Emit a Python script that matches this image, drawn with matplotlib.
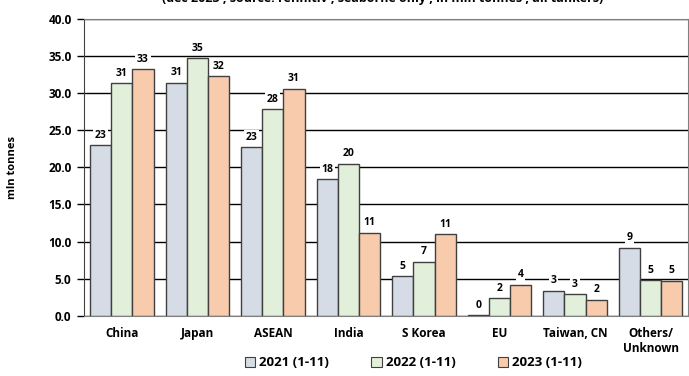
import numpy as np
import matplotlib.pyplot as plt
from matplotlib.patches import Patch

plt.rcParams['font.family'] = ['Open Sans', 'DejaVu Sans']
plt.rcParams['font.weight'] = 'bold'

categories = ['China', 'Japan', 'ASEAN', 'India', 'S Korea', 'EU', 'Taiwan, CN', 'Others/\nUnknown']
series_names = ['2021 (1-11)', '2022 (1-11)', '2023 (1-11)']
v2021 = [23.0, 31.4, 22.7, 18.4, 5.3, 0.1, 3.4, 9.2]
v2022 = [31.3, 34.7, 27.8, 20.5, 7.3, 2.4, 2.9, 4.8]
v2023 = [33.2, 32.3, 30.6, 11.2, 11.0, 4.2, 2.2, 4.7]
colors = ['#D6DCE5', '#E2EFDA', '#F8CBAD']

fig = plt.figure(figsize=(6.89, 3.76), dpi=100)
ax = fig.add_axes([0.122, 0.16, 0.877, 0.79])

x = np.arange(len(categories))
w = 0.28
for i, (vals, c) in enumerate(zip([v2021, v2022, v2023], colors)):
    pos = x + (i - 1) * w
    ax.bar(pos, vals, w, color=c, edgecolor='#404040', linewidth=1.0, zorder=3)
    for p, v in zip(pos, vals):
        ax.text(p, v + 0.6, f'{v:.0f}', ha='center', va='bottom', fontsize=7.5,
                fontweight='bold', zorder=4,
                bbox=dict(facecolor='white', edgecolor='none', pad=1.2))

ax.set_ylim(0, 40)
ax.set_xlim(-0.5, len(categories) - 0.5)
ax.set_yticks(np.arange(0, 41, 5))
ax.set_yticklabels([f'{t:.1f}' for t in np.arange(0, 41, 5)], fontsize=8.5, fontweight='bold')
ax.set_xticks(x)
ax.set_xticklabels(categories, fontsize=8.5, fontweight='bold')
ax.tick_params(axis='x', length=0, pad=8)
ax.tick_params(axis='y', length=5, width=1, direction='out', pad=4)
ax.yaxis.grid(True, color='black', linewidth=1.0, zorder=0)
ax.set_axisbelow(True)
for s in ['top', 'right']:
    ax.spines[s].set_color('#808080')
ax.spines['left'].set_color('#404040')
ax.spines['bottom'].set_color('#808080')
ax.set_ylabel('mln tonnes', fontsize=8, fontweight='bold')
ax.yaxis.set_label_coords(-0.11, 0.5)

handles = [Patch(facecolor=c, edgecolor='#404040', linewidth=0.8) for c in colors]
fig.legend(handles, series_names, loc='center', bbox_to_anchor=(0.6, 0.035), ncol=3,
           frameon=False, handlelength=0.8, handleheight=0.8,
           handletextpad=0.3, columnspacing=3.2, prop={'weight': 'bold', 'size': 9.5})

fig.text(0.555, 1.005, '(dec 2023 , source: refinitiv , seaborne only , in mln tonnes , all tankers)',
         ha='center', va='center', fontsize=9, fontweight='bold')

fig.savefig('out.png', dpi=100)
